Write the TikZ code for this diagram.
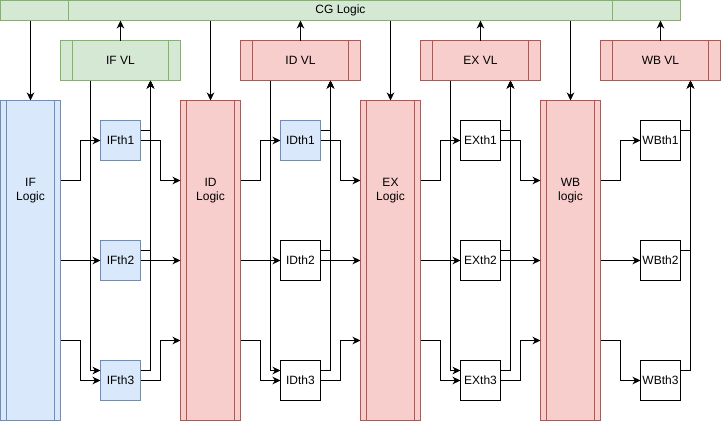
\documentclass[tikz,border=0pt]{standalone}
\usepackage{fontspec}
\setmainfont{Liberation Sans}
\usetikzlibrary{arrows.meta,calc}
\definecolor{gfill}{HTML}{D5E8D4}
\definecolor{gline}{HTML}{82B366}
\definecolor{rfill}{HTML}{F8CECC}
\definecolor{rline}{HTML}{B85450}
\definecolor{bfill}{HTML}{DAE8FC}
\definecolor{bline}{HTML}{6C8EBF}
\begin{document}
\begin{tikzpicture}[x=1pt,y=-1pt,line width=1pt,
  font=\fontsize{12}{14}\selectfont,
  box/.style={draw,inner sep=0pt,outer sep=0pt,align=center},
  grn/.style={box,fill=gfill,draw=gline},
  red/.style={box,fill=rfill,draw=rline},
  blu/.style={box,fill=bfill,draw=bline},
  wht/.style={box,fill=white,draw=black},
  vl/.style={minimum width=120pt,minimum height=40pt},
  lg/.style={minimum width=60pt,minimum height=320pt},
  lgtext/.style={label={[align=center,yshift=70pt]center:#1}},
  th/.style={minimum width=40pt,minimum height=40pt},
  arr/.style={-{Stealth[length=8pt,width=7.5pt,inset=2.5pt]}}]
\useasboundingbox (-0.5,-0.5) rectangle (720.5,420.5);
% CG
\node[grn,minimum width=680pt,minimum height=20pt] (CG) at (340,10) {CG Logic};
% VL boxes
\node[grn,vl] (IFVL) at (120,60) {IF VL};
\node[red,vl] (IDVL) at (300,60) {ID VL};
\node[red,vl] (EXVL) at (480,60) {EX VL};
\node[red,vl] (WBVL) at (660,60) {WB VL};
% logic boxes
\node[blu,lg,lgtext={IF\\Logic}] (IFL) at (30,260) {};
\node[red,lg,lgtext={ID\\Logic}] (IDL) at (210,260) {};
\node[red,lg,lgtext={EX\\Logic}] (EXL) at (390,260) {};
\node[red,lg,lgtext={WB\\logic}] (WBL) at (570,260) {};
% thread boxes
\node[blu,th] (IFth1) at (120,140) {IFth1};
\node[blu,th] (IFth2) at (120,260) {IFth2};
\node[blu,th] (IFth3) at (120,380) {IFth3};
\node[blu,th] (IDth1) at (300,140) {IDth1};
\node[wht,th] (IDth2) at (300,260) {IDth2};
\node[wht,th] (IDth3) at (300,380) {IDth3};
\node[wht,th] (EXth1) at (480,140) {EXth1};
\node[wht,th] (EXth2) at (480,260) {EXth2};
\node[wht,th] (EXth3) at (480,380) {EXth3};
\node[wht,th] (WBth1) at (660,140) {WBth1};
\node[wht,th] (WBth2) at (660,260) {WBth2};
\node[wht,th] (WBth3) at (660,380) {WBth3};
% process inner lines
\foreach \n/\c in {CG/gline,IFVL/gline,IDVL/rline,EXVL/rline,WBVL/rline,IFL/bline,IDL/rline,EXL/rline,WBL/rline}{
  \draw[\c] ($(\n.north west)!0.1!(\n.north east)$) -- ($(\n.south west)!0.1!(\n.south east)$);
  \draw[\c] ($(\n.north west)!0.9!(\n.north east)$) -- ($(\n.south west)!0.9!(\n.south east)$);
}
% CG to logic, VL to CG
\foreach \s in {IF,ID,EX,WB}{
  \draw[arr] (CG.south -| \s L.north) -- (\s L.north);
  \draw[arr] (\s VL.north) -- (\s VL.north |- CG.south);
  % logic to threads
  \draw[arr] ([yshift=80pt]\s L.east) -- ++(20,0) |- (\s th1.west);
  \draw[arr] (\s L.east) -- (\s th2.west);
  \draw[arr] ([yshift=-80pt]\s L.east) -- ++(20,0) |- (\s th3.west);
  % threads to VL
  \foreach \k in {1,2,3}{
    \draw[arr] ([yshift=10pt]\s th\k.east) -| ([xshift=30pt]\s VL.south);
  }
}
% VL to thread 3
\foreach \s in {IF,ID,EX}{
  \draw[arr] ([xshift=-30pt]\s VL.south) |- ([yshift=10pt]\s th3.west);
}
% threads to next logic
\foreach \s/\t in {IF/ID,ID/EX,EX/WB}{
  \draw[arr] (\s th1.east) -- ++(20,0) |- ([yshift=80pt]\t L.west);
  \draw[arr] (\s th2.east) -- (\t L.west);
  \draw[arr] (\s th3.east) -- ++(20,0) |- ([yshift=-80pt]\t L.west);
}
\end{tikzpicture}
\end{document}
